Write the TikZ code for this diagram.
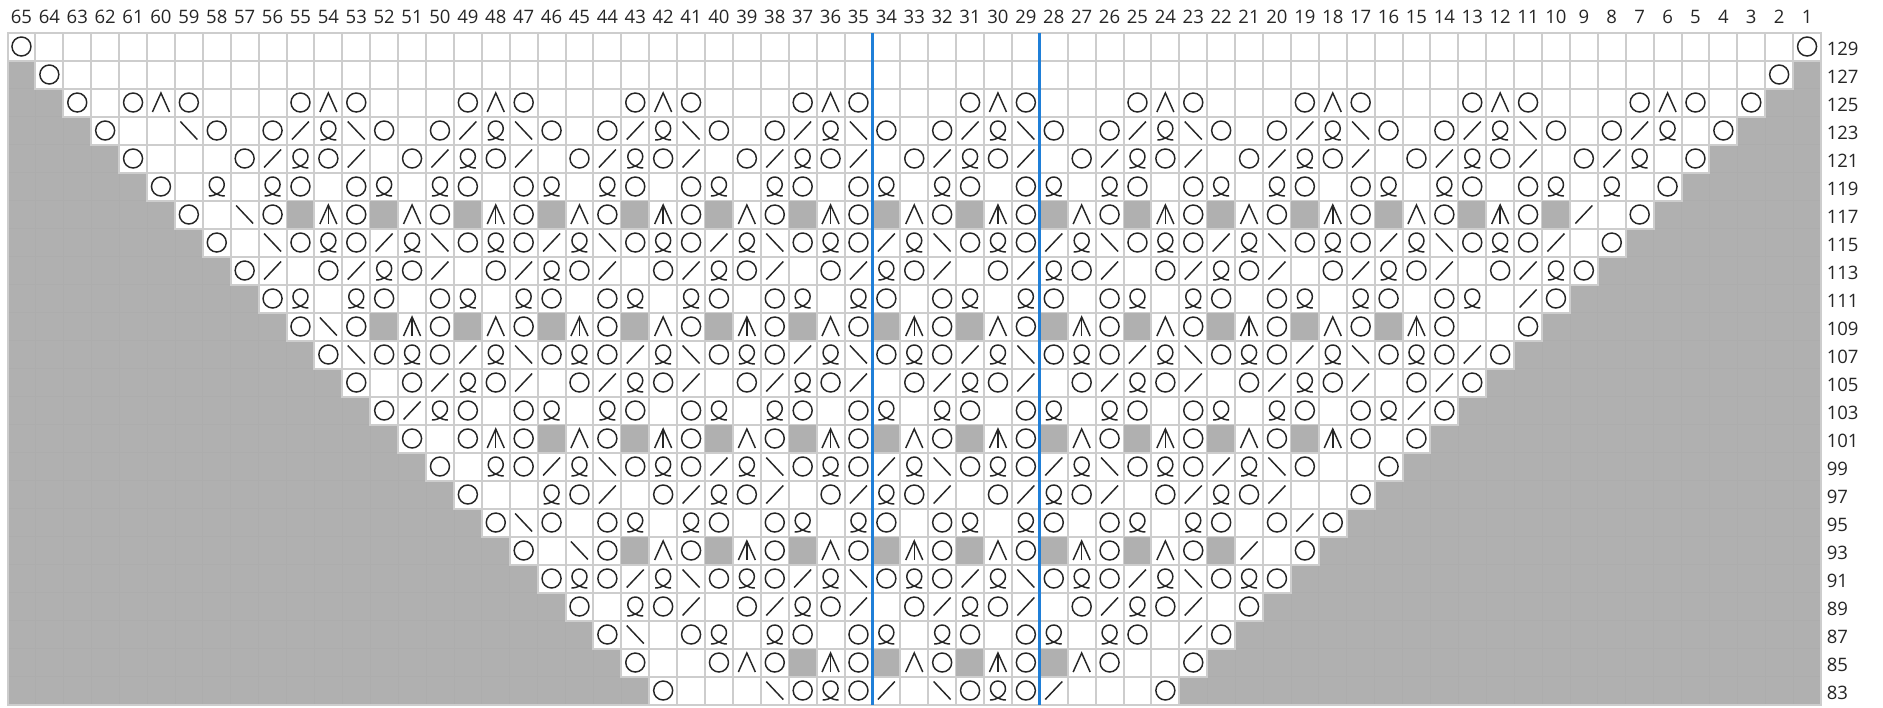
\documentclass[tikz,border=0pt]{standalone}
\usepackage{fontspec}
\setmainfont{Open Sans}
\definecolor{chartgrey}{HTML}{B0B0B0}
\definecolor{gridgrey}{HTML}{CDCDCD}
\definecolor{fadegrey}{HTML}{ADADAD}
\definecolor{inkgrey}{HTML}{262626}
\definecolor{repeatblue}{HTML}{1F7FD8}
\begin{document}
\begin{tikzpicture}[x=0.75pt,y=-0.75pt,every node/.style={font=\fontsize{13.9pt}{16pt}\selectfont,text=inkgrey,inner sep=0pt}]
    \tikzset{
      cellwhite/.style={draw=gridgrey,fill=white,line width=1.5pt},
      cellgrey/.style={fill=chartgrey},
      fadeline/.style={fadegrey,line width=0.6pt},
      edgeline/.style={gridgrey,line width=1.5pt},
      sym/.style={inkgrey,line width=1.1pt},
      repeatline/.style={repeatblue,line width=2.1pt},
      collab/.style={anchor=center},
      rowlab/.style={anchor=west}
    }
    \newcommand{\stitchn}{}
    \newcommand{\stitcho}{\draw[sym] (0,0) circle (9.5);}
    \newcommand{\stitchs}{\draw[sym] (-8.5,9) -- (8.5,-9);}
    \newcommand{\stitchb}{\draw[sym] (-8.5,-9) -- (8.5,9);}
    \newcommand{\stitcha}{\draw[sym] (-8.5,9.5) -- (0,-9.5) -- (8.5,9.5);}
    \newcommand{\stitchw}{\draw[sym] (-8.5,9.5) -- (0,-9.5) -- (8.5,9.5);
      \draw[sym] (0,-9.5) -- (0,9.5);}
    \newcommand{\stitchq}{\draw[sym] (-8,9.5) .. controls (-2,9.5) and (7.5,5.5) .. (7.5,-2)
      .. controls (7.5,-6.5) and (4,-9.5) .. (0,-9.5)
      .. controls (-4,-9.5) and (-7.5,-6.5) .. (-7.5,-2)
      .. controls (-7.5,5.5) and (2,9.5) .. (8,9.5);}
    \newcommand{\stitchrow}[3]{%
      \node[rowlab] (r#2) at (1826.5,{48.5+28*#1}) {#2};
      \foreach \s [count=\c from #1] in {#3} {
        \begin{scope}[shift={({21.45+27.9*\c},{46.5+28*#1})}]
          \if g\s
            \fill[cellgrey] (-13.95,-14) rectangle (13.95,14);
          \else
            \draw[cellwhite] (-13.95,-14) rectangle (13.95,14);
          \fi
          \csname stitch\s\endcsname
        \end{scope}
      }
    }

    \useasboundingbox (0,0) rectangle (1883,707);
    \fill[cellgrey] (7.5,32.5) rectangle (1821,704.5);
    \foreach \n in {1,...,64}
      \draw[fadeline] ({7.5+27.9*\n},32.5) -- ({7.5+27.9*\n},704.5);
    \foreach \n in {1,...,23}
      \draw[fadeline] (7.5,{32.5+28*\n}) -- (1821,{32.5+28*\n});
    \draw[edgeline] (7.5,32.5) rectangle (1821,704.5);

    \foreach \n in {1,...,65}
      \node[collab] (c\n) at ({21.45+27.9*(65-\n)},16.5) {\n};

    \stitchrow{0}{129}{o,n,n,n,n,n,n,n,n,n,n,n,n,n,n,n,n,n,n,n,n,n,n,n,n,n,n,n,n,n,n,n,n,n,n,n,n,n,n,n,n,n,n,n,n,n,n,n,n,n,n,n,n,n,n,n,n,n,n,n,n,n,n,n,o}
    \stitchrow{1}{127}{o,n,n,n,n,n,n,n,n,n,n,n,n,n,n,n,n,n,n,n,n,n,n,n,n,n,n,n,n,n,n,n,n,n,n,n,n,n,n,n,n,n,n,n,n,n,n,n,n,n,n,n,n,n,n,n,n,n,n,n,n,n,o}
    \stitchrow{2}{125}{o,n,o,a,o,n,n,n,o,a,o,n,n,n,o,a,o,n,n,n,o,a,o,n,n,n,o,a,o,n,n,n,o,a,o,n,n,n,o,a,o,n,n,n,o,a,o,n,n,n,o,a,o,n,n,n,o,a,o,n,o}
    \stitchrow{3}{123}{o,n,n,b,o,n,o,s,q,b,o,n,o,s,q,b,o,n,o,s,q,b,o,n,o,s,q,b,o,n,o,s,q,b,o,n,o,s,q,b,o,n,o,s,q,b,o,n,o,s,q,b,o,n,o,s,q,n,o}
    \stitchrow{4}{121}{o,n,n,n,o,s,q,o,s,n,o,s,q,o,s,n,o,s,q,o,s,n,o,s,q,o,s,n,o,s,q,o,s,n,o,s,q,o,s,n,o,s,q,o,s,n,o,s,q,o,s,n,o,s,q,n,o}
    \stitchrow{5}{119}{o,n,q,n,q,o,n,o,q,n,q,o,n,o,q,n,q,o,n,o,q,n,q,o,n,o,q,n,q,o,n,o,q,n,q,o,n,o,q,n,q,o,n,o,q,n,q,o,n,o,q,n,q,n,o}
    \stitchrow{6}{117}{o,n,b,o,g,w,o,g,a,o,g,w,o,g,a,o,g,w,o,g,a,o,g,w,o,g,a,o,g,w,o,g,a,o,g,w,o,g,a,o,g,w,o,g,a,o,g,w,o,g,s,n,o}
    \stitchrow{7}{115}{o,n,b,o,q,o,s,q,b,o,q,o,s,q,b,o,q,o,s,q,b,o,q,o,s,q,b,o,q,o,s,q,b,o,q,o,s,q,b,o,q,o,s,q,b,o,q,o,s,n,o}
    \stitchrow{8}{113}{o,s,n,o,s,q,o,s,n,o,s,q,o,s,n,o,s,q,o,s,n,o,s,q,o,s,n,o,s,q,o,s,n,o,s,q,o,s,n,o,s,q,o,s,n,o,s,q,o}
    \stitchrow{9}{111}{o,q,n,q,o,n,o,q,n,q,o,n,o,q,n,q,o,n,o,q,n,q,o,n,o,q,n,q,o,n,o,q,n,q,o,n,o,q,n,q,o,n,o,q,n,s,o}
    \stitchrow{10}{109}{o,b,o,g,w,o,g,a,o,g,w,o,g,a,o,g,w,o,g,a,o,g,w,o,g,a,o,g,w,o,g,a,o,g,w,o,g,a,o,g,w,o,n,n,o}
    \stitchrow{11}{107}{o,b,o,q,o,s,q,b,o,q,o,s,q,b,o,q,o,s,q,b,o,q,o,s,q,b,o,q,o,s,q,b,o,q,o,s,q,b,o,q,o,s,o}
    \stitchrow{12}{105}{o,n,o,s,q,o,s,n,o,s,q,o,s,n,o,s,q,o,s,n,o,s,q,o,s,n,o,s,q,o,s,n,o,s,q,o,s,n,o,s,o}
    \stitchrow{13}{103}{o,s,q,o,n,o,q,n,q,o,n,o,q,n,q,o,n,o,q,n,q,o,n,o,q,n,q,o,n,o,q,n,q,o,n,o,q,s,o}
    \stitchrow{14}{101}{o,n,o,w,o,g,a,o,g,w,o,g,a,o,g,w,o,g,a,o,g,w,o,g,a,o,g,w,o,g,a,o,g,w,o,n,o}
    \stitchrow{15}{99}{o,n,q,o,s,q,b,o,q,o,s,q,b,o,q,o,s,q,b,o,q,o,s,q,b,o,q,o,s,q,b,o,n,n,o}
    \stitchrow{16}{97}{o,n,n,q,o,s,n,o,s,q,o,s,n,o,s,q,o,s,n,o,s,q,o,s,n,o,s,q,o,s,n,n,o}
    \stitchrow{17}{95}{o,b,o,n,o,q,n,q,o,n,o,q,n,q,o,n,o,q,n,q,o,n,o,q,n,q,o,n,o,s,o}
    \stitchrow{18}{93}{o,n,b,o,g,a,o,g,w,o,g,a,o,g,w,o,g,a,o,g,w,o,g,a,o,g,s,n,o}
    \stitchrow{19}{91}{o,q,o,s,q,b,o,q,o,s,q,b,o,q,o,s,q,b,o,q,o,s,q,b,o,q,o}
    \stitchrow{20}{89}{o,n,q,o,s,n,o,s,q,o,s,n,o,s,q,o,s,n,o,s,q,o,s,n,o}
    \stitchrow{21}{87}{o,b,n,o,q,n,q,o,n,o,q,n,q,o,n,o,q,n,q,o,n,s,o}
    \stitchrow{22}{85}{o,n,n,o,a,o,g,w,o,g,a,o,g,w,o,g,a,o,n,n,o}
    \stitchrow{23}{83}{o,n,n,n,b,o,q,o,s,n,b,o,q,o,s,n,n,n,o}

    \draw[repeatline] (872.4,32.5) -- (872.4,704.5);
    \draw[repeatline] (1039.8,32.5) -- (1039.8,704.5);
  \end{tikzpicture}
\end{document}
